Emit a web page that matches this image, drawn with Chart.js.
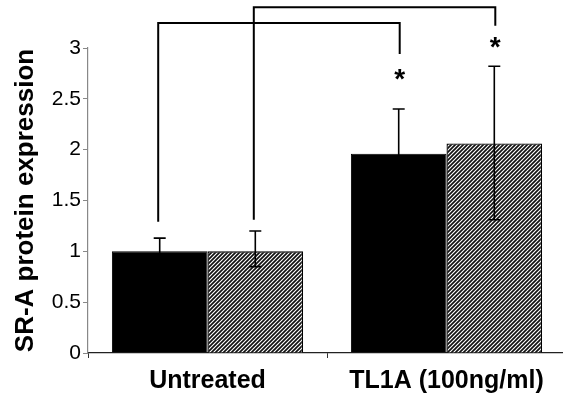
<!DOCTYPE html>
<html><head><meta charset="utf-8">
<script src="https://cdn.jsdelivr.net/npm/chart.js@4/dist/chart.umd.min.js"></script>
<style>html,body{margin:0;padding:0;overflow:hidden;background:#fff}#wrap{width:566px;height:403px;position:relative}</style>
</head><body><div id="wrap"><canvas id="c"></canvas></div>
<script>
// ---- data ----
const categories = ['Untreated', 'TL1A (100ng/ml)'];
const seriesNames = ['Solid', 'Hatched'];
const solidValues = [1.0, 1.96];
const solidErrUp = [0.13, 0.44];
const solidErrDown = [0.13, 0.44];
const hatchedValues = [1.0, 2.06];
const hatchedErrUp = [0.2, 0.76];
const hatchedErrDown = [0.15, 0.75];
const yTicks = [0, 0.5, 1, 1.5, 2, 2.5, 3];
// significance brackets: dataset index, start / top / end heights (data units)
const bracketDataset = [0, 1];
const bracketStartValues = [1.29, 1.31];
const bracketTopValues = [3.245, 3.40];
const bracketEndValues = [2.94, 3.22];
const starValues = [2.74, 3.05];

// ---- hatch pattern ----
function makeHatch() {
  const p = document.createElement('canvas');
  p.width = 4; p.height = 4;
  const g = p.getContext('2d');
  g.fillStyle = '#fff'; g.fillRect(0, 0, 4, 4);
  g.strokeStyle = '#111'; g.lineWidth = 1.7;
  g.beginPath();
  g.moveTo(-1, 5); g.lineTo(5, -1);
  g.moveTo(-1, 1); g.lineTo(1, -1);
  g.moveTo(3, 5); g.lineTo(5, 3);
  g.stroke();
  return document.getElementById('c').getContext('2d').createPattern(p, 'repeat');
}

const annotate = {
  id: 'annotate',
  afterDatasetsDraw(chart) {
    const ctx = chart.ctx, y = chart.scales.y;
    ctx.save();
    ctx.strokeStyle = '#000';
    ctx.lineWidth = 1.6;
    const errs = [[solidValues, solidErrUp, solidErrDown], [hatchedValues, hatchedErrUp, hatchedErrDown]];
    errs.forEach((e, di) => {
      chart.getDatasetMeta(di).data.forEach((bar, i) => {
        const v = e[0][i];
        const t = y.getPixelForValue(v + e[1][i]);
        const b = y.getPixelForValue(v - e[2][i]);
        ctx.beginPath();
        ctx.moveTo(bar.x, t); ctx.lineTo(bar.x, b);
        ctx.moveTo(bar.x - 6, t); ctx.lineTo(bar.x + 6, t);
        ctx.moveTo(bar.x - 6, b); ctx.lineTo(bar.x + 6, b);
        ctx.stroke();
      });
    });
    ctx.lineWidth = 2;
    ctx.fillStyle = '#000';
    ctx.font = 'bold 28px "Liberation Sans", Arial, sans-serif';
    ctx.textAlign = 'center';
    ctx.textBaseline = 'alphabetic';
    bracketDataset.forEach((di, k) => {
      const bars = chart.getDatasetMeta(di).data;
      const x0 = bars[0].x - 1.5, x1 = bars[1].x + 1;
      const ys = y.getPixelForValue(bracketStartValues[k]);
      const yt = y.getPixelForValue(bracketTopValues[k]);
      const ye = y.getPixelForValue(bracketEndValues[k]);
      ctx.beginPath();
      ctx.moveTo(x0, ys); ctx.lineTo(x0, yt); ctx.lineTo(x1, yt); ctx.lineTo(x1, ye);
      ctx.stroke();
      const m = ctx.measureText('*');
      const cy = y.getPixelForValue(starValues[k]);
      const off = (m.actualBoundingBoxAscent - m.actualBoundingBoxDescent) / 2;
      ctx.fillText('*', x1, cy + off);
    });
    ctx.restore();
  }
};

new Chart(document.getElementById('c'), {
  type: 'bar',
  data: {
    labels: categories,
    datasets: [
      { label: seriesNames[0], data: solidValues, backgroundColor: '#000', borderColor: '#000', borderWidth: 1 },
      { label: seriesNames[1], data: hatchedValues, backgroundColor: makeHatch(), borderColor: '#000', borderWidth: 1.3 }
    ]
  },
  options: {
    responsive: true,
    maintainAspectRatio: false,
    animation: false,
    layout: { padding: { top: 48, right: 0, left: 0, bottom: 0 } },
    datasets: { bar: { categoryPercentage: 0.8, barPercentage: 1.0 } },
    plugins: { legend: { display: false }, tooltip: { enabled: false } },
    scales: {
      x: {
        grid: { drawOnChartArea: false, tickLength: 5, color: '#333', offset: true },
        border: { color: '#222', width: 1.2 },
        ticks: { color: '#000', font: { family: '"Liberation Sans", Arial, sans-serif', size: 25, weight: 'bold' }, padding: 8, maxRotation: 0 },
        afterFit(s) { s.height = 50; }
      },
      y: {
        min: 0, max: 3,
        afterBuildTicks(s) { s.ticks = yTicks.map(v => ({ value: v })); },
        grid: { drawOnChartArea: false, tickLength: 5, color: '#888' },
        border: { color: '#888', width: 1.2 },
        ticks: { color: '#000', font: { family: '"Liberation Sans", Arial, sans-serif', size: 21 }, padding: 2,
          callback: v => String(v) },
        title: { display: true, text: 'SR-A protein expression', color: '#000',
          font: { family: '"Liberation Sans", Arial, sans-serif', size: 26, weight: 'bold' }, padding: { top: 10, bottom: 0 } },
        afterFit(s) { s.width = 88; }
      }
    }
  },
  plugins: [annotate]
});
</script>
</body></html>
